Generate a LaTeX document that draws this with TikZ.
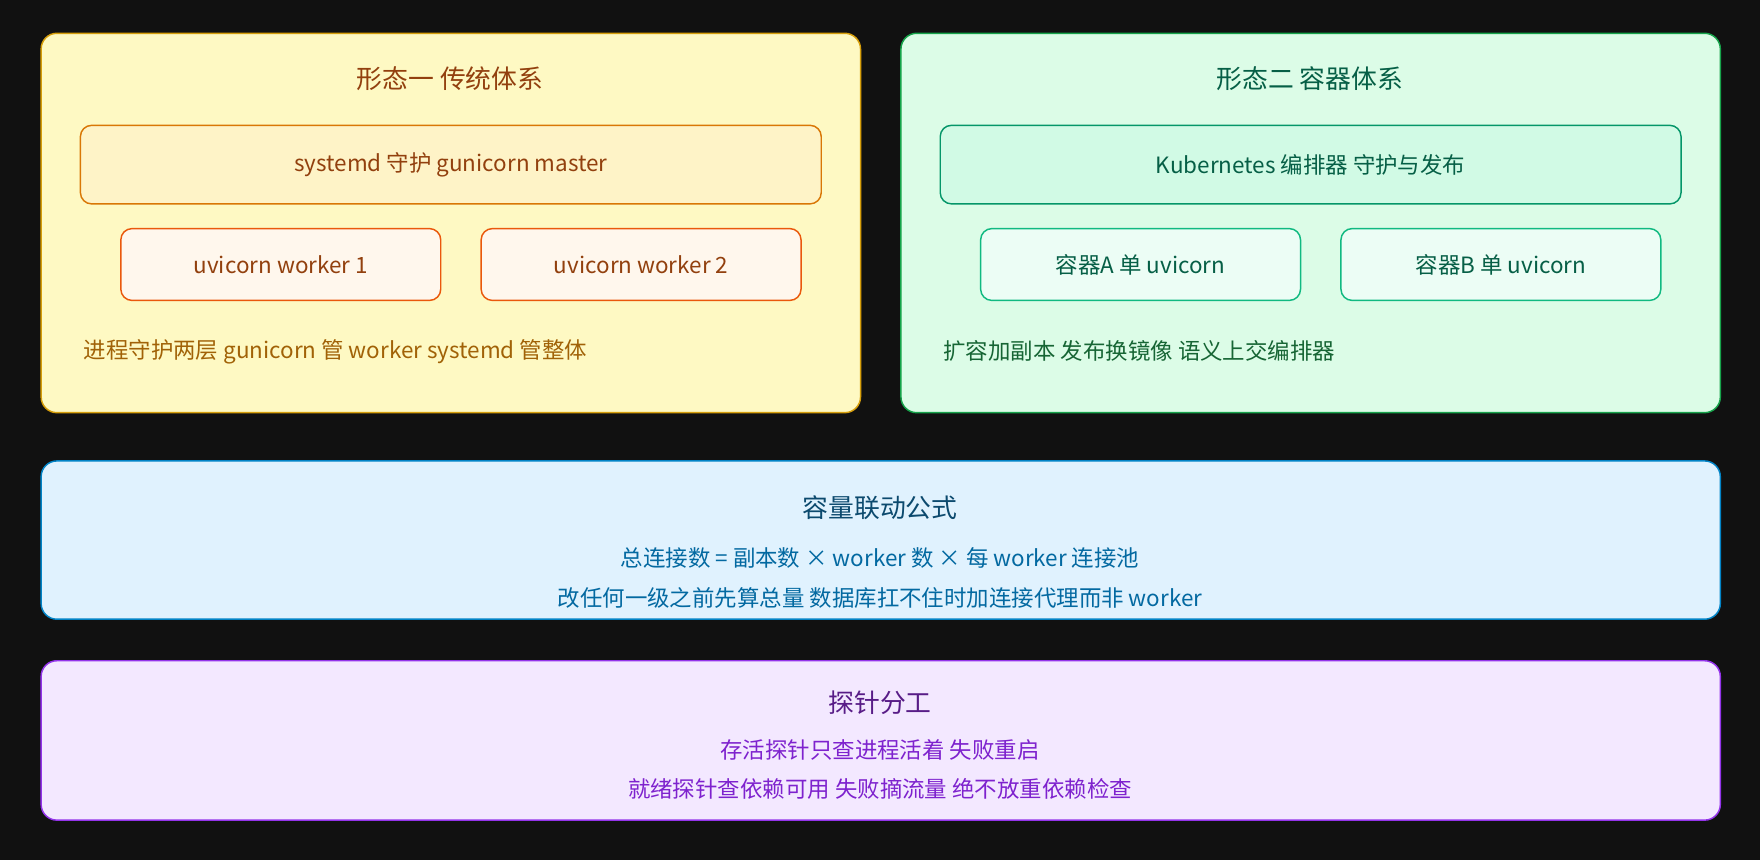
\documentclass[tikz,border=0pt]{standalone}
\usepackage{fontspec}
\setmainfont{Noto Sans CJK SC}
\definecolor{bgdark}{HTML}{111111}
\definecolor{ambfill}{HTML}{FEF9C3}
\definecolor{ambline}{HTML}{D69E0B}
\definecolor{ambin}{HTML}{FEF3C7}
\definecolor{ambinline}{HTML}{D97706}
\definecolor{orgfill}{HTML}{FFF7ED}
\definecolor{orgline}{HTML}{EA580C}
\definecolor{ambtext}{HTML}{92400E}
\definecolor{ambnote}{HTML}{A16207}
\definecolor{grnfill}{HTML}{DCFCE7}
\definecolor{grnline}{HTML}{16A34A}
\definecolor{grnin}{HTML}{D1FAE5}
\definecolor{grninline}{HTML}{059669}
\definecolor{grnbox}{HTML}{ECFDF5}
\definecolor{grnboxline}{HTML}{10B981}
\definecolor{grntext}{HTML}{065F46}
\definecolor{grnnote}{HTML}{166534}
\definecolor{blufill}{HTML}{E0F2FE}
\definecolor{bluline}{HTML}{0284C7}
\definecolor{blutitle}{HTML}{0C4A6E}
\definecolor{blutext}{HTML}{0369A1}
\definecolor{purfill}{HTML}{F3E8FF}
\definecolor{purline}{HTML}{9333EA}
\definecolor{purtitle}{HTML}{581C87}
\definecolor{purtext}{HTML}{7E22CE}
\begin{document}
\begin{tikzpicture}[x=1pt,y=-1pt,
  panel/.style={draw, line width=1.3pt, rounded corners=14pt, anchor=north west, inner sep=0pt},
  box/.style={draw, line width=1.3pt, rounded corners=10pt, anchor=north west, inner sep=0pt},
  title/.style={font=\fontsize{23}{27}\selectfont},
  body/.style={font=\fontsize{20}{24}\selectfont}]
\fill[bgdark] (0,0) rectangle (1568,766);
\useasboundingbox (0,0) rectangle (1568,766);
% form one
\node[panel, fill=ambfill, draw=ambline, minimum width=730pt, minimum height=338pt] (formA) at (36,29) {};
\node[title, text=ambtext] (formAtitle) at (401,70) {形态一 传统体系};
\node[box, fill=ambin, draw=ambinline, minimum width=660pt, minimum height=70pt] (master) at (71,111) {};
\node[body, text=ambtext] at (master.center) {systemd 守护 gunicorn master};
\node[box, fill=orgfill, draw=orgline, minimum width=285pt, minimum height=64pt] (worker1) at (107,203) {};
\node[body, text=ambtext] at (worker1.center) {uvicorn worker 1};
\node[box, fill=orgfill, draw=orgline, minimum width=285pt, minimum height=64pt] (worker2) at (428,203) {};
\node[body, text=ambtext] at (worker2.center) {uvicorn worker 2};
\node[body, text=ambnote, anchor=west] (formAnote) at (71,313) {进程守护两层 gunicorn 管 worker systemd 管整体};
% form two
\node[panel, fill=grnfill, draw=grnline, minimum width=730pt, minimum height=338pt] (formB) at (802,29) {};
\node[title, text=grntext] (formBtitle) at (1167,70) {形态二 容器体系};
\node[box, fill=grnin, draw=grninline, minimum width=660pt, minimum height=70pt] (kube) at (837,111) {};
\node[body, text=grntext] at (kube.center) {Kubernetes 编排器 守护与发布};
\node[box, fill=grnbox, draw=grnboxline, minimum width=285pt, minimum height=64pt] (contA) at (873,203) {};
\node[body, text=grntext] at (contA.center) {容器A 单 uvicorn};
\node[box, fill=grnbox, draw=grnboxline, minimum width=285pt, minimum height=64pt] (contB) at (1194,203) {};
\node[body, text=grntext] at (contB.center) {容器B 单 uvicorn};
\node[body, text=grnnote, anchor=west] (formBnote) at (837,313) {扩容加副本 发布换镜像 语义上交编排器};
% capacity
\node[panel, fill=blufill, draw=bluline, minimum width=1496pt, minimum height=141pt] (capacity) at (36,410) {};
\node[title, text=blutitle] (captitle) at (784,452) {容量联动公式};
\node[body, text=blutext] (capline1) at (784,497) {总连接数 = 副本数 × worker 数 × 每 worker 连接池};
\node[body, text=blutext] (capline2) at (784,533) {改任何一级之前先算总量 数据库扛不住时加连接代理而非 worker};
% probes
\node[panel, fill=purfill, draw=purline, minimum width=1496pt, minimum height=142pt] (probes) at (36,588) {};
\node[title, text=purtitle] (probetitle) at (784,626) {探针分工};
\node[body, text=purtext] (probeline1) at (784,668) {存活探针只查进程活着 失败重启};
\node[body, text=purtext] (probeline2) at (784,703) {就绪探针查依赖可用 失败摘流量 绝不放重依赖检查};
\end{tikzpicture}
\end{document}
